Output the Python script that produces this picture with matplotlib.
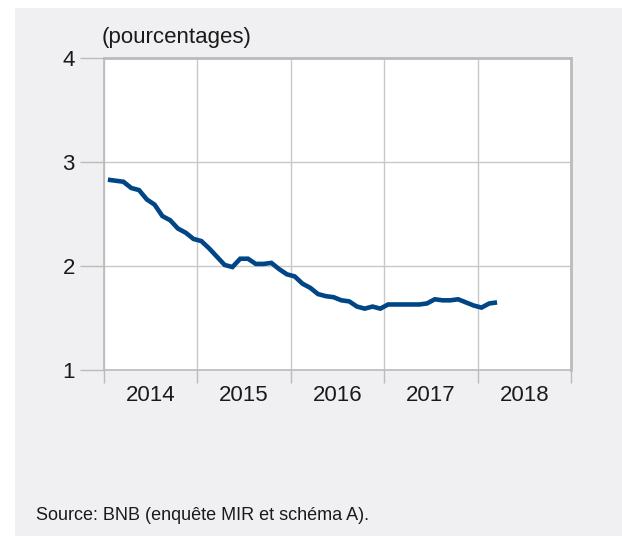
import matplotlib
matplotlib.use("Agg")
import matplotlib.pyplot as plt
from matplotlib.patches import Rectangle
import numpy as np

plt.rcParams['font.family'] = ['Liberation Sans', 'DejaVu Sans']

# monthly values, Jan 2014 - Mar 2018 (percentages)
rates = [2.83, 2.82, 2.81, 2.75, 2.73, 2.64, 2.59, 2.48, 2.44, 2.36, 2.32, 2.26,
         2.24, 2.17, 2.09, 2.01, 1.99, 2.07, 2.07, 2.02, 2.02, 2.03, 1.97, 1.92,
         1.90, 1.83, 1.79, 1.73, 1.71, 1.70, 1.67, 1.66, 1.61, 1.59, 1.61, 1.59,
         1.63, 1.63, 1.63, 1.63, 1.63, 1.64, 1.68, 1.67, 1.67, 1.68, 1.65, 1.62,
         1.60, 1.64, 1.65]
years = ['2014', '2015', '2016', '2017', '2018']
y_ticks = [1, 2, 3, 4]

W, H = 622, 536
fig = plt.figure(figsize=(W / 100, H / 100), dpi=100)
fig.patch.set_facecolor('white')
# grey panel behind everything
fig.patches.append(Rectangle((15 / W, 0), 1, (H - 8) / H, transform=fig.transFigure,
                             facecolor='#f0f0f2', edgecolor='none', zorder=-5))

ax = fig.add_axes([104 / W, 1 - 370 / H, (571 - 104) / W, (370 - 58) / H])
ax.set_zorder(2)
ax.set_facecolor('white')

x = np.arange(len(rates)) + 0.5
ax.plot(x, rates, color='#004687', lw=3.3, solid_capstyle='butt', solid_joinstyle='miter', zorder=3)

ax.set_xlim(0, 12 * len(years))
ax.set_ylim(1, 4)
ax.set_yticks(y_ticks)
ax.set_yticklabels([str(v) for v in y_ticks], fontsize=16, color='#1a1a1a')
ax.set_xticks(np.arange(0, 12 * len(years) + 1, 12))
ax.set_xticklabels([])
ax.set_xticks(np.arange(6, 12 * len(years), 12), minor=True)
ax.set_xticklabels(years, minor=True, fontsize=16, color='#1a1a1a')

ax.tick_params(axis='y', which='major', length=17, width=1, color='#bbbbbb', pad=4)
ax.tick_params(axis='x', which='major', length=9, width=1, color='#bbbbbb')
ax.tick_params(axis='x', which='minor', length=0, pad=11)

ax.grid(True, which='major', color='#c8c8c8', lw=1)
for side in ['left', 'bottom']:
    ax.spines[side].set_color('#bbbbbb')
    ax.spines[side].set_linewidth(1.2)
for side in ['top', 'right']:
    ax.spines[side].set_color('#bbbbbb')
    ax.spines[side].set_linewidth(2)

fig.text(102 / W, 1 - 38 / H, '(pourcentages)', fontsize=16, color='#1a1a1a', va='center', ha='left')
fig.text(36 / W, 1 - 516 / H, 'Source: BNB (enquête MIR et schéma A).', fontsize=13,
         color='#1a1a1a', va='center', ha='left')

fig.savefig('out.png', dpi=100)
